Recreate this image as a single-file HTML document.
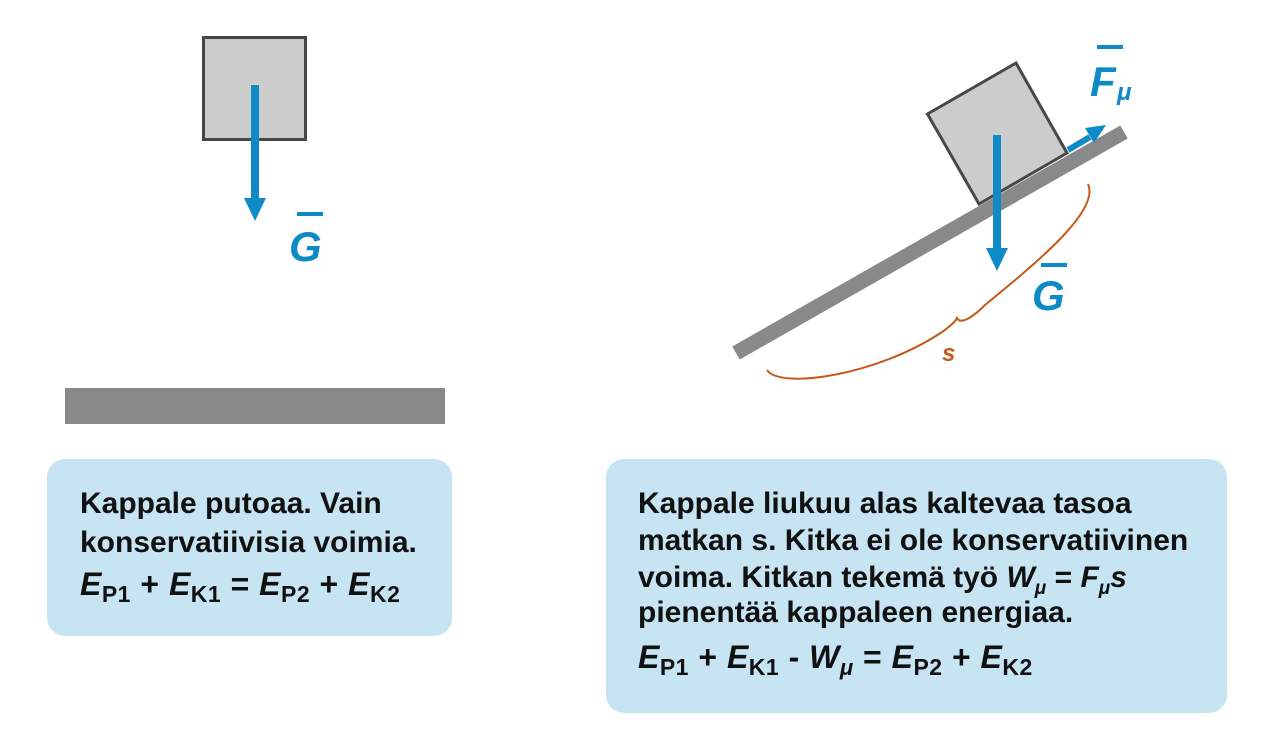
<!DOCTYPE html>
<html><head><meta charset="utf-8"><style>
body{margin:0;width:1280px;height:744px;background:#fff;position:relative;overflow:hidden;font-family:"Liberation Sans",sans-serif}
.box{position:absolute;background:#c6e4f1;border-radius:18px}
.t{position:absolute;font-weight:bold;font-size:30px;color:#111;white-space:nowrap;line-height:30px}
.eq{font-size:32px;letter-spacing:0.5px}
sub{font-size:23px;font-style:normal;vertical-align:-7px;line-height:0}
i sub.m{font-style:italic;font-size:19px}
.eq i sub.m{font-size:22px}
</style></head><body>
<svg width="1280" height="744" style="position:absolute;left:0;top:0">
<rect x="203.5" y="37.5" width="102" height="102" fill="#cccccc" stroke="#474747" stroke-width="3"/>
<rect x="251" y="85" width="8" height="115" fill="#0e8ac6"/>
<polygon points="244,198 266,198 255,221" fill="#0e8ac6"/>
<text x="289" y="261" font-family="Liberation Sans" font-weight="bold" font-style="italic" font-size="42" fill="#0e8ac6">G</text>
<rect x="297" y="212" width="26" height="4" fill="#0e8ac6"/>
<rect x="65" y="388" width="380" height="36" fill="#898989"/>
<line x1="736" y1="353" x2="1124" y2="132" stroke="#898989" stroke-width="15"/>
<polygon points="927.5,114 1016,63 1067,153 979,204" fill="#cccccc" stroke="#474747" stroke-width="3"/>
<line x1="1068" y1="150" x2="1090" y2="137" stroke="#0e8ac6" stroke-width="6"/>
<polygon points="1085,128 1106,125 1094,143" fill="#0e8ac6"/>
<rect x="993" y="135" width="8" height="115" fill="#0e8ac6"/>
<polygon points="986,248 1008,248 997,271" fill="#0e8ac6"/>
<text x="1032" y="310" font-family="Liberation Sans" font-weight="bold" font-style="italic" font-size="42" fill="#0e8ac6">G</text>
<rect x="1041" y="263" width="26" height="4" fill="#0e8ac6"/>
<text x="1090" y="96" font-family="Liberation Sans" font-weight="bold" font-style="italic" font-size="42" fill="#0e8ac6">F</text>
<text x="1117" y="100" font-family="Liberation Sans" font-weight="bold" font-style="italic" font-size="24" fill="#0e8ac6">μ</text>
<rect x="1097" y="45" width="26" height="4" fill="#0e8ac6"/>
<path d="M767,370 C780,390 880,375 945,330 C952,324 955,322 957,318 C960,324 970,320 985,305 C1040,260 1100,210 1088,184" fill="none" stroke="#c55a1a" stroke-width="2"/>
<text x="942" y="361" font-family="Liberation Sans" font-weight="bold" font-style="italic" font-size="24" fill="#c55a1a">s</text>
</svg>
<div class="box" style="left:47px;top:459px;width:405px;height:177px"></div>
<div class="box" style="left:606px;top:459px;width:621px;height:254px"></div>
<div class="t" style="left:80px;top:489px">Kappale putoaa. Vain</div>
<div class="t" style="left:80px;top:528px">konservatiivisia voimia.</div>
<div class="t eq" style="left:80px;top:569px"><i>E</i><sub>P1</sub> + <i>E</i><sub>K1</sub> = <i>E</i><sub>P2</sub> + <i>E</i><sub>K2</sub></div>
<div class="t" style="left:638px;top:489px">Kappale liukuu alas kaltevaa tasoa</div>
<div class="t" style="left:638px;top:526px">matkan s. Kitka ei ole konservatiivinen</div>
<div class="t" style="left:638px;top:563px">voima. Kitkan tekemä työ <i>W<sub class="m">μ</sub></i> = <i>F<sub class="m">μ</sub>s</i></div>
<div class="t" style="left:638px;top:598px">pienentää kappaleen energiaa.</div>
<div class="t eq" style="left:638px;top:642px"><i>E</i><sub>P1</sub> + <i>E</i><sub>K1</sub> - <i>W<sub class="m">μ</sub></i> = <i>E</i><sub>P2</sub> + <i>E</i><sub>K2</sub></div>
</body></html>
